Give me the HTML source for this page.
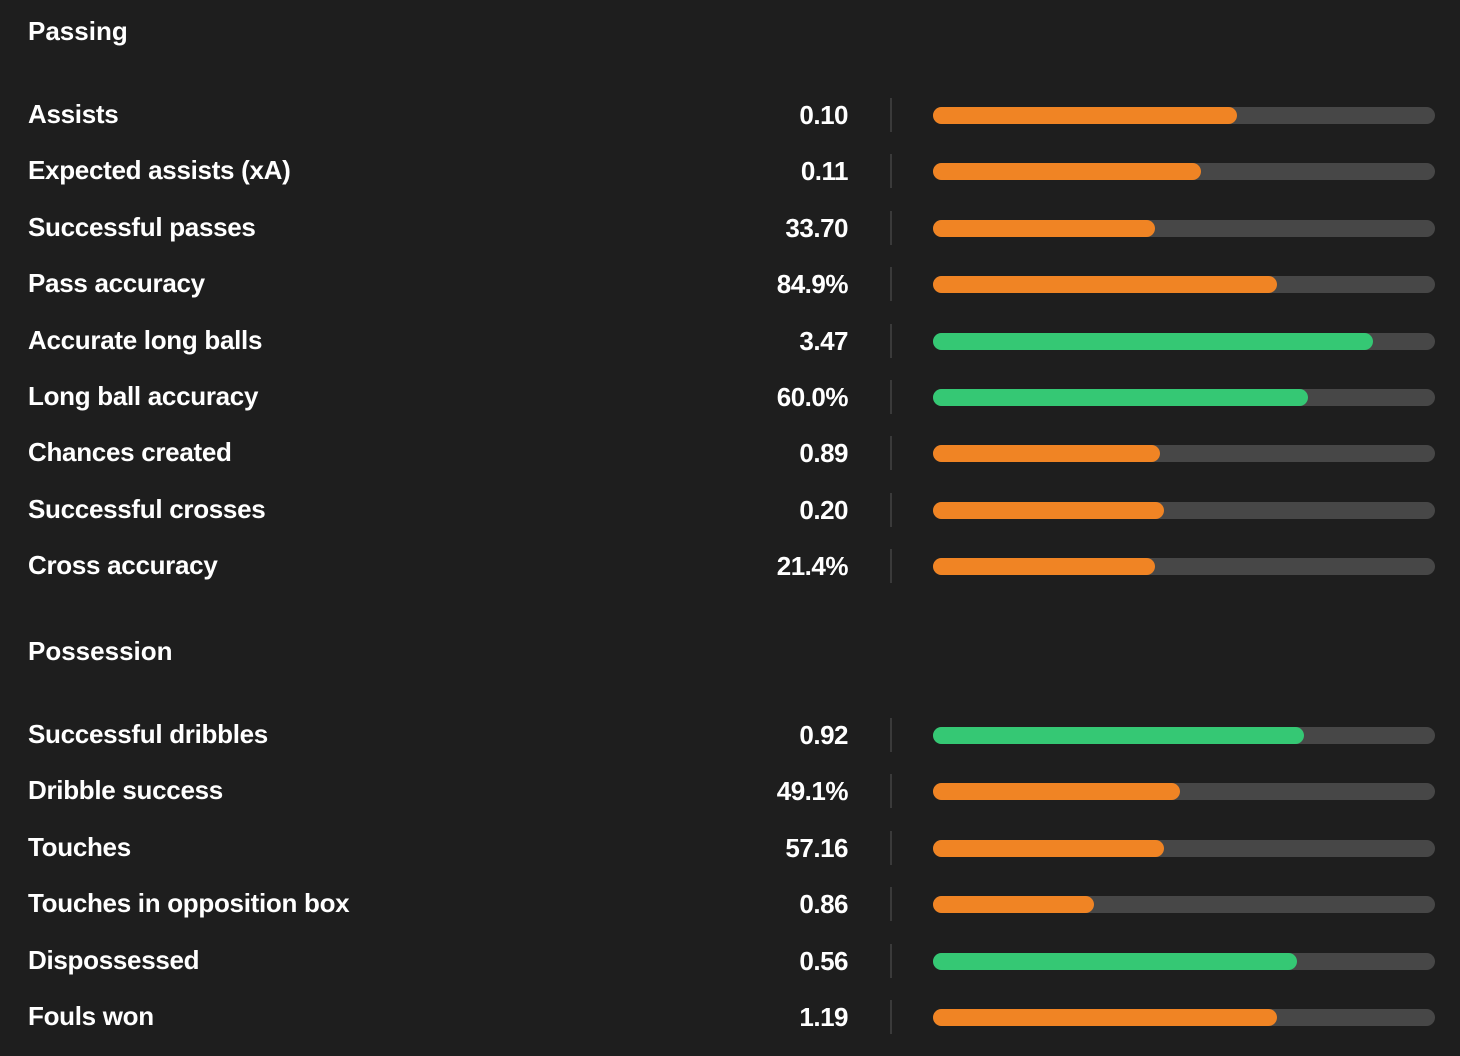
<!DOCTYPE html>
<html><head><meta charset="utf-8">
<style>
html,body{margin:0;padding:0;background:#1e1e1e;}
body{width:1460px;height:1056px;position:relative;overflow:hidden;font-family:"Liberation Sans",sans-serif;color:#fff;}
.h{position:absolute;left:28px;font-size:26px;font-weight:bold;line-height:30px;}
.lbl{position:absolute;left:28px;font-size:26px;line-height:30px;font-weight:bold;letter-spacing:-0.3px;}
.val{position:absolute;right:612px;font-size:26px;line-height:30px;font-weight:bold;text-align:right;letter-spacing:-0.5px;}
.div{position:absolute;left:890px;width:2px;height:34px;background:#3a3a3a;}
.track{position:absolute;left:933px;width:502px;height:17px;border-radius:9px;background:#474747;}
.fill{position:absolute;left:0;top:0;height:17px;border-radius:9px;}
</style></head>
<body>
<div id="root"></div>
<script>
const sections = ["Passing","Possession"];
const sectionY = [32, 652];
const labels = ["Assists","Expected assists (xA)","Successful passes","Pass accuracy","Accurate long balls","Long ball accuracy","Chances created","Successful crosses","Cross accuracy","Successful dribbles","Dribble success","Touches","Touches in opposition box","Dispossessed","Fouls won"];
const values = ["0.10","0.11","33.70","84.9%","3.47","60.0%","0.89","0.20","21.4%","0.92","49.1%","57.16","0.86","0.56","1.19"];
const percentiles = [0.605,0.533,0.443,0.685,0.876,0.747,0.453,0.461,0.443,0.739,0.493,0.461,0.321,0.725,0.685];
const good = [0,0,0,0,1,1,0,0,0,1,0,0,0,1,0];
const sectionOf = [0,0,0,0,0,0,0,0,0,1,1,1,1,1,1];

const root = document.getElementById('root');
const rowStart = [115, 735];
const rowGap = 56.4;
const trackW = 502;
function rowY(i){
  const s = sectionOf[i];
  const first = sectionOf.indexOf(s);
  return rowStart[s] + (i-first)*rowGap;
}
sections.forEach((t,k)=>{
  const h = document.createElement('div');
  h.className='h';
  h.style.top=(sectionY[k]-16)+'px';
  h.textContent=t;
  
  
  root.appendChild(h);
});
labels.forEach((l,i)=>{
  const y = rowY(i);
  const a = document.createElement('div');
  a.className='lbl'; a.style.top=(y-16)+'px'; a.textContent=l;
  
  
  root.appendChild(a);
  const v = document.createElement('div');
  v.className='val'; v.style.top=(y-15)+'px'; v.textContent=values[i];
  
  
  root.appendChild(v);
  const d = document.createElement('div');
  d.className='div'; d.style.top=(y-17)+'px';
  
  
  root.appendChild(d);
  const t = document.createElement('div');
  t.className='track'; t.style.top=(y-8)+'px';
  
  
  const f = document.createElement('div');
  f.className='fill';
  f.style.width=(percentiles[i]*trackW)+'px';
  f.style.background = good[i] ? '#35c874' : '#f08424';
  
  
  t.appendChild(f);
  root.appendChild(t);
});
</script>
</body></html>
